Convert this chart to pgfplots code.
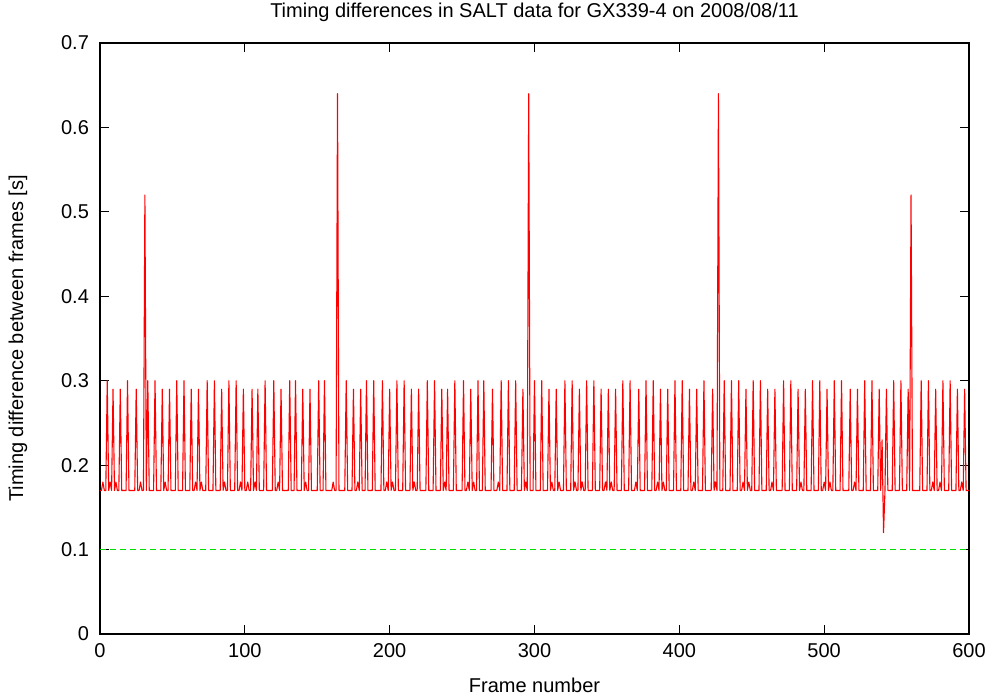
\documentclass[border=0pt]{standalone}
\usepackage{fontspec}
\setmainfont{Liberation Sans}
\usepackage{pgfplots}
\pgfplotsset{compat=1.18}
\definecolor{gpgreen}{RGB}{0,220,0}
\begin{document}
\begin{tikzpicture}
\path[use as bounding box] (-50pt,-32pt) rectangle (446pt,317pt);
\begin{axis}[
  at={(0,0)}, anchor=south west,
  scale only axis, width=434.5pt, height=295.5pt,
  xmin=0, xmax=600, ymin=0, ymax=0.7,
  xtick={0,100,...,600},
  ytick={0,0.1,0.2,0.3,0.4,0.5,0.6,0.7},
  tick align=inside, xtick pos=both, ytick pos=both,
  major tick length=4.5pt,
  axis line style={line width=0.6pt, black},
  every tick/.style={black, line width=0.6pt},
  /pgf/number format/assume math mode=true,
  /pgf/number format/fixed,
  /pgf/number format/precision=1,
  xticklabel style={yshift=-1pt},
  yticklabel style={xshift=-2pt},
  font=\fontsize{10}{12}\selectfont,
  every axis title shift=0pt,
  title={Timing differences in SALT data for GX339-4 on 2008/08/11},
  title style={at={(axis description cs:0.5,1.0525)}, anchor=center, inner sep=0pt},
  xlabel={Frame number},
  xlabel style={at={(axis description cs:0.5,-0.0863)}, anchor=center, inner sep=0pt},
  ylabel={Timing difference between frames [s]},
  ylabel style={at={(axis description cs:-0.0944,0.5)}, anchor=center, inner sep=0pt},
]
\addplot[gpgreen, line width=0.9pt, dash pattern=on 3pt off 2pt, mark=none] coordinates {(0,0.1)(600,0.1)};
\addplot[draw=red, line width=0.55pt, line join=round, mark=none] coordinates {
(0,0.17)(1,0.17)(2,0.18)(3,0.17)(4,0.17)(5,0.3)(6,0.17)(7,0.18)(8,0.17)(9,0.29)(10,0.17)(11,0.18)(12,0.17)(13,0.17)(14,0.29)(15,0.17)
(18,0.17)(19,0.3)(20,0.17)(24,0.17)(25,0.29)(26,0.17)(27,0.17)(28,0.18)(29,0.17)(30,0.17)(31,0.52)(32,0.17)(33,0.3)(34,0.17)
(37,0.17)(38,0.3)(39,0.17)(42,0.17)(43,0.29)(44,0.17)(45,0.18)(46,0.17)(47,0.17)(48,0.29)(49,0.17)
(52,0.17)(53,0.3)(54,0.17)(57,0.17)(58,0.3)(59,0.17)(62,0.17)(63,0.29)(64,0.17)(65,0.17)(66,0.18)(67,0.17)(68,0.29)(69,0.17)(70,0.18)(71,0.17)
(73,0.17)(74,0.3)(75,0.17)(78,0.17)(79,0.3)(80,0.17)(83,0.17)(84,0.29)(85,0.17)(86,0.18)(87,0.17)(88,0.17)(89,0.3)(90,0.17)
(93,0.17)(94,0.3)(95,0.17)(96,0.17)(97,0.18)(98,0.17)(99,0.29)(100,0.17)(101,0.17)(102,0.18)(103,0.17)(104,0.17)(105,0.29)(106,0.17)(107,0.18)(108,0.17)(109,0.29)(110,0.17)
(113,0.17)(114,0.3)(115,0.17)(119,0.17)(120,0.3)(121,0.17)(122,0.17)(123,0.18)(124,0.17)(125,0.29)(126,0.17)
(130,0.17)(131,0.3)(132,0.17)(134,0.17)(135,0.3)(136,0.17)(139,0.17)(140,0.29)(141,0.17)(142,0.18)(143,0.17)(144,0.17)(145,0.29)(146,0.17)
(150,0.17)(151,0.3)(152,0.17)(154,0.17)(155,0.3)(156,0.17)(160,0.17)(161,0.18)(162,0.17)(163,0.17)(164,0.64)(165,0.17)
(169,0.17)(170,0.3)(171,0.17)(174,0.17)(175,0.29)(176,0.17)(177,0.17)(178,0.18)(179,0.17)(180,0.29)(181,0.17)
(183,0.17)(184,0.3)(185,0.17)(188,0.17)(189,0.3)(190,0.17)(194,0.17)(195,0.3)(196,0.17)(197,0.17)(198,0.18)(199,0.17)(200,0.29)(201,0.17)(202,0.18)(203,0.17)(204,0.17)(205,0.3)(206,0.17)
(209,0.17)(210,0.3)(211,0.17)(214,0.17)(215,0.29)(216,0.17)(217,0.18)(218,0.17)(219,0.17)(220,0.29)(221,0.17)
(225,0.17)(226,0.3)(227,0.17)(230,0.17)(231,0.3)(232,0.17)(235,0.17)(236,0.29)(237,0.17)(238,0.18)(239,0.17)(240,0.29)(241,0.17)
(244,0.17)(245,0.3)(246,0.17)(250,0.17)(251,0.3)(252,0.17)(253,0.17)(254,0.18)(255,0.17)(256,0.29)(257,0.17)(258,0.18)(259,0.17)(260,0.17)(261,0.3)(262,0.17)
(264,0.17)(265,0.3)(266,0.17)(270,0.17)(271,0.29)(272,0.17)(274,0.17)(275,0.18)(276,0.17)(277,0.3)(278,0.17)
(281,0.17)(282,0.3)(283,0.17)(286,0.17)(287,0.3)(288,0.17)(291,0.17)(292,0.29)(293,0.17)(294,0.18)(295,0.17)(296,0.64)(297,0.17)
(299,0.17)(300,0.3)(301,0.17)(304,0.17)(305,0.3)(306,0.17)(309,0.17)(310,0.29)(311,0.17)(312,0.18)(313,0.17)(314,0.17)(315,0.29)(316,0.17)(317,0.18)(318,0.17)
(320,0.17)(321,0.3)(322,0.17)(325,0.17)(326,0.3)(327,0.17)(328,0.18)(329,0.17)(330,0.17)(331,0.29)(332,0.17)(333,0.18)(334,0.17)(335,0.17)(336,0.3)(337,0.17)
(340,0.17)(341,0.3)(342,0.17)(345,0.17)(346,0.29)(347,0.17)(348,0.17)(349,0.18)(350,0.17)(351,0.29)(352,0.17)(353,0.18)(354,0.17)(355,0.17)(356,0.29)(357,0.17)
(360,0.17)(361,0.3)(362,0.17)(365,0.17)(366,0.3)(367,0.17)(369,0.17)(370,0.18)(371,0.17)(372,0.29)(373,0.17)
(376,0.17)(377,0.3)(378,0.17)(381,0.17)(382,0.3)(383,0.17)(384,0.17)(385,0.18)(386,0.17)(387,0.29)(388,0.17)(389,0.18)(390,0.17)(391,0.17)(392,0.29)(393,0.17)
(396,0.17)(397,0.3)(398,0.17)(401,0.17)(402,0.3)(403,0.17)(406,0.17)(407,0.29)(408,0.17)(409,0.17)(410,0.18)(411,0.17)(412,0.29)(413,0.17)
(416,0.17)(417,0.3)(418,0.17)(422,0.17)(423,0.29)(424,0.17)(425,0.18)(426,0.17)(427,0.64)(428,0.17)
(430,0.17)(431,0.3)(432,0.17)(435,0.17)(436,0.3)(437,0.17)(440,0.17)(441,0.3)(442,0.17)(443,0.17)(444,0.18)(445,0.17)(446,0.29)(447,0.17)(448,0.18)(449,0.17)(450,0.17)(451,0.3)(452,0.17)
(455,0.17)(456,0.3)(457,0.17)(460,0.17)(461,0.29)(462,0.17)(463,0.17)(464,0.18)(465,0.17)(466,0.29)(467,0.17)
(471,0.17)(472,0.3)(473,0.17)(476,0.17)(477,0.3)(478,0.17)(481,0.17)(482,0.29)(483,0.17)(484,0.18)(485,0.17)(486,0.17)(487,0.29)(488,0.17)
(491,0.17)(492,0.3)(493,0.17)(496,0.17)(497,0.3)(498,0.17)(499,0.17)(500,0.18)(501,0.17)(502,0.29)(503,0.17)(504,0.18)(505,0.17)(506,0.17)(507,0.3)(508,0.17)
(511,0.17)(512,0.3)(513,0.17)(517,0.17)(518,0.29)(519,0.17)(520,0.17)(521,0.18)(522,0.17)(523,0.29)(524,0.17)
(527,0.17)(528,0.3)(529,0.17)(532,0.17)(533,0.3)(534,0.17)(537,0.17)(538,0.29)(539,0.17)(540,0.23)(541,0.12)(542,0.17)(543,0.29)(544,0.17)
(547,0.17)(548,0.3)(549,0.17)(552,0.17)(553,0.3)(554,0.17)(557,0.17)(558,0.29)(559,0.17)(560,0.52)(561,0.17)
(566,0.17)(567,0.3)(568,0.17)(571,0.17)(572,0.3)(573,0.17)(574,0.17)(575,0.18)(576,0.17)(577,0.29)(578,0.17)(579,0.17)(580,0.18)(581,0.17)(582,0.3)(583,0.17)
(586,0.17)(587,0.3)(588,0.17)(591,0.17)(592,0.29)(593,0.17)(594,0.17)(595,0.18)(596,0.17)(597,0.29)(598,0.17)(600,0.17)
};
\end{axis}
\end{tikzpicture}
\end{document}
